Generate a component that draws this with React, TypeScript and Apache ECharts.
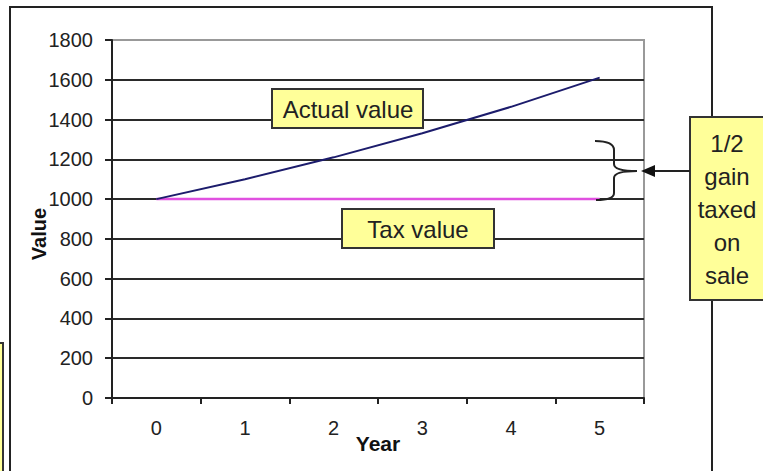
import React, { useEffect, useRef } from "react";
import * as echarts from "echarts";

const years = ["0", "1", "2", "3", "4", "5"];
const actualValue = [1000, 1100, 1210, 1331, 1464, 1611];
const taxValue = [1000, 1000, 1000, 1000, 1000, 1000];
const yMin = 0;
const yMax = 1800;
const yStep = 200;
const labelActual = "Actual value";
const labelTax = "Tax value";
const labelGain = "1/2\ngain\ntaxed\non\nsale";

const braceD =
  "M595,141 C606,141 614,143 614,150 L614,164 C614,169 624,171 637,171 C624,171 614,173 614,178 L614,193 C614,198 606,200 596,200";
echarts.graphic.registerShape("brace", echarts.graphic.extendPath(braceD, {}));

const FONT = "Liberation Sans, Arial, sans-serif";
const YELLOW = "#ffff99";
const ZB = 100;

export default function App() {
  const ref = useRef<HTMLDivElement>(null);
  useEffect(() => {
    if (!ref.current) return;
    const chart = echarts.init(ref.current, undefined, { renderer: "svg" });
    chart.setOption({
      animation: false,
      backgroundColor: "#ffffff",
      grid: {
        left: 112,
        right: 119,
        top: 40,
        bottom: 73,
        show: true,
        borderColor: "#999999",
        borderWidth: 2,
        backgroundColor: "transparent",
      },
      xAxis: {
        type: "category",
        data: years,
        boundaryGap: true,
        name: "Year",
        nameLocation: "middle",
        nameGap: 35,
        nameMoveOverlap: false,
        nameTextStyle: { fontFamily: FONT, fontSize: 21, fontWeight: "bold", color: "#111" },
        axisLine: { show: true, lineStyle: { color: "#222", width: 2 } },
        axisTick: { show: true, length: 6, lineStyle: { color: "#222", width: 2 } },
        axisLabel: { margin: 20, fontFamily: FONT, fontSize: 20, color: "#222" },
        splitLine: { show: false },
      },
      yAxis: {
        type: "value",
        min: yMin,
        max: yMax,
        interval: yStep,
        axisLine: { show: true, lineStyle: { color: "#222", width: 2 } },
        axisTick: { show: true, length: 7, lineStyle: { color: "#222", width: 2 } },
        axisLabel: {
          margin: 19,
          fontFamily: FONT,
          fontSize: 20,
          color: "#222",
          formatter: (v: number) => String(v),
        },
        splitLine: { show: true, showMaxLine: false, lineStyle: { color: "#2a2a2a", width: 2 } },
      },
      series: [
        {
          name: "Tax value",
          type: "line",
          data: taxValue,
          symbol: "none",
          lineStyle: { color: "#e050e0", width: 2.5 },
          z: 2,
        },
        {
          name: "Actual value",
          type: "line",
          data: actualValue,
          symbol: "none",
          lineStyle: { color: "#1c1c6c", width: 2 },
          z: 3,
        },
      ],
      graphic: [
        {
          type: "rect",
          shape: { x: 10, y: 7, width: 702, height: 490 },
          style: { fill: "none", stroke: "#222", lineWidth: 2 },
          z: 1,
        },
        {
          type: "rect",
          shape: { x: -10, y: 343, width: 13, height: 150 },
          style: { fill: YELLOW, stroke: "#333", lineWidth: 2 },
          z: ZB,
        },
        {
          type: "rect",
          shape: { x: 272, y: 89, width: 151, height: 39 },
          style: { fill: YELLOW, stroke: "#333", lineWidth: 2 },
          z: ZB,
        },
        {
          type: "text",
          x: 348,
          y: 109,
          style: {
            text: labelActual,
            font: `24px ${FONT}`,
            fill: "#222",
            align: "center",
            verticalAlign: "middle",
          },
          z: ZB + 1,
        },
        {
          type: "rect",
          shape: { x: 342, y: 209, width: 152, height: 39 },
          style: { fill: YELLOW, stroke: "#333", lineWidth: 2 },
          z: ZB,
        },
        {
          type: "text",
          x: 418,
          y: 229,
          style: {
            text: labelTax,
            font: `24px ${FONT}`,
            fill: "#222",
            align: "center",
            verticalAlign: "middle",
          },
          z: ZB + 1,
        },
        {
          type: "rect",
          shape: { x: 690, y: 117, width: 90, height: 183 },
          style: { fill: YELLOW, stroke: "#333", lineWidth: 2 },
          z: ZB,
        },
        {
          type: "text",
          x: 727,
          y: 209,
          style: {
            text: labelGain,
            font: `24px ${FONT}`,
            lineHeight: 33,
            fill: "#222",
            align: "center",
            verticalAlign: "middle",
          },
          z: ZB + 1,
        },
        {
          type: "line",
          shape: { x1: 652, y1: 171, x2: 690, y2: 171 },
          style: { stroke: "#222", lineWidth: 2 },
          z: ZB,
        },
        {
          type: "polygon",
          shape: { points: [[641, 171], [655, 165], [655, 177]] },
          style: { fill: "#111" },
          z: ZB,
        },
        {
          type: "brace",
          x: 0,
          y: 0,
          style: { fill: "none", stroke: "#222", lineWidth: 2 },
          z: ZB,
        },
        {
          type: "text",
          x: 39,
          y: 234,
          rotation: Math.PI / 2,
          style: {
            text: "Value",
            font: `bold 20px ${FONT}`,
            fill: "#111",
            align: "center",
            verticalAlign: "middle",
          },
          z: ZB,
        },
      ],
    });
    return () => chart.dispose();
  }, []);
  return (
    <div
      ref={ref}
      style={{ position: "absolute", left: 0, top: 0, width: 763, height: 471 }}
    />
  );
}
